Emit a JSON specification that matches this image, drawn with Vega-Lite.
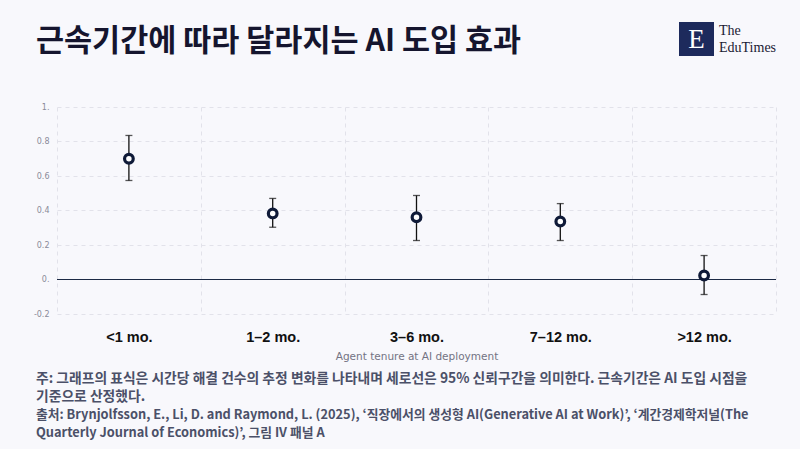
{
  "$schema": "https://vega.github.io/schema/vega-lite/v6.json",
  "background": "#f8f8fc",
  "padding": {"left": 33, "top": 22, "right": 25, "bottom": 7},
  "config": {"view": {"stroke": null}, "font": "Noto Sans CJK KR", "axisY": {"labelOverlap": false}, "axis": {"labelOverlap": false}},
  "spacing": 8,
  "vconcat": [
    {
      "spacing": 46,
      "vconcat": [
        {
          "spacing": 0,
          "hconcat": [
            {
              "width": 622,
              "height": 34,
              "data": {"values": [{"t": "근속기간에 따라 달라지는 AI 도입 효과"}]},
              "mark": {"type": "text", "align": "left", "baseline": "middle", "fontSize": 30.5, "fontWeight": "bold", "color": "#15152e", "dy": 2.5, "dx": -21},
              "encoding": {
                "x": {"datum": 0, "type": "quantitative", "scale": {"domain": [0, 1]}, "axis": null},
                "text": {"field": "t"}
              }
            },
            {
              "width": 35,
              "height": 34,
              "view": {"fill": "#1d2a5c", "stroke": null},
              "data": {"values": [{"t": "E"}]},
              "mark": {"type": "text", "align": "center", "baseline": "middle", "font": "Liberation Serif", "fontSize": 27, "color": "white", "dy": 1},
              "encoding": {"text": {"field": "t"}}
            },
            {
              "width": 58,
              "height": 34,
              "data": {"values": [{"line": 1, "t": "The"}, {"line": 2, "t": "EduTimes"}]},
              "mark": {"type": "text", "align": "left", "baseline": "middle", "font": "Liberation Serif", "fontSize": 14, "color": "#1a1a33", "dx": 5},
              "encoding": {
                "x": {"datum": 0, "type": "quantitative", "scale": {"domain": [0, 1]}, "axis": null},
                "y": {"field": "line", "type": "ordinal", "axis": null, "scale": {"type": "point", "padding": 0.5}},
                "text": {"field": "t"}
              }
            }
          ]
        },
        {
          "width": 719,
          "height": 207,
          "data": {"values": [
            {"tenure": "<1 mo.", "est": 0.70, "lo": 0.574, "hi": 0.835},
            {"tenure": "1–2 mo.", "est": 0.383, "lo": 0.303, "hi": 0.47},
            {"tenure": "3–6 mo.", "est": 0.361, "lo": 0.226, "hi": 0.487},
            {"tenure": "7–12 mo.", "est": 0.336, "lo": 0.226, "hi": 0.44},
            {"tenure": ">12 mo.", "est": 0.023, "lo": -0.087, "hi": 0.139}
          ]},
          "encoding": {
            "x": {
              "field": "tenure", "type": "nominal", "sort": null,
              "scale": {"type": "band", "paddingInner": 0, "paddingOuter": 0},
              "axis": {
                "title": "Agent tenure at AI deployment",
                "labelAngle": 0, "tickBand": "extent", "ticks": false, "domain": false,
                "grid": true, "gridDash": [4, 4], "gridColor": "#e2e2ea", "gridWidth": 1,
                "labelFont": "Liberation Sans", "labelFontSize": 14.5, "labelFontWeight": "bold", "labelColor": "#111111", "labelPadding": 16,
                "titleFont": "DejaVu Sans", "titleFontSize": 10.5, "titleFontWeight": "normal", "titleColor": "#737383", "titlePadding": 8
              }
            },
            "y": {"field": "est", "type": "quantitative", "scale": {"domain": [-0.2, 1]},
              "axis": {"title": null, "values": [-0.2, 0, 0.2, 0.4, 0.6, 0.8, 1], "labelOverlap": false,
                "labelExpr": "datum.value == 0 ? '0.' : datum.value == 1 ? '1.' : replace(format(datum.value, '.1f'), '−', '-')",
                "grid": true, "gridDash": [4, 4], "gridColor": "#e2e2ea", "ticks": false, "domain": false,
                "labelFont": "DejaVu Sans", "labelFontSize": 8, "labelColor": "#8a8a99", "labelPadding": 8}}
          },
          "layer": [
            {
              "mark": {"type": "rule", "color": "#1c2a45", "strokeWidth": 1.2},
              "encoding": {"x": null, "y": {"datum": 0, "type": "quantitative"}}
            },
            {
              "mark": {"type": "errorbar", "ticks": {"size": 7}, "color": "#111111", "thickness": 1.3},
              "encoding": {
                "y": {"field": "lo", "type": "quantitative"},
                "y2": {"field": "hi"}
              }
            },
            {
              "mark": {"type": "point", "filled": false, "fill": "white", "fillOpacity": 1, "stroke": "#0f1a38", "strokeWidth": 3.2, "size": 75, "opacity": 1}
            }
          ]
        }
      ]
    },
    {
      "width": 719,
      "height": 72,
      "data": {"values": [
        {"line": 1, "kind": "note", "text": "주: 그래프의 표식은 시간당 해결 건수의 추정 변화를 나타내며 세로선은 95% 신뢰구간을 의미한다. 근속기간은 AI 도입 시점을"},
        {"line": 2, "kind": "note", "text": "기준으로 산정했다."},
        {"line": 3, "kind": "source", "text": "출처: Brynjolfsson, E., Li, D. and Raymond, L. (2025), ‘직장에서의 생성형 AI(Generative AI at Work)’, ‘계간경제학저널(The"},
        {"line": 4, "kind": "source", "text": "Quarterly Journal of Economics)’, 그림 IV 패널 A"}
      ]},
      "encoding": {
        "x": {"datum": 0, "type": "quantitative", "scale": {"domain": [0, 1]}, "axis": null},
        "y": {"field": "line", "type": "ordinal", "axis": null, "scale": {"type": "point", "padding": 0.5}},
        "text": {"field": "text"}
      },
      "layer": [
        {
          "transform": [{"filter": "datum.kind == 'note'"}],
          "mark": {"type": "text", "align": "left", "baseline": "middle", "fontSize": 13.8, "fontWeight": "bold", "color": "#4b5068", "dx": -21}
        },
        {
          "transform": [{"filter": "datum.kind == 'source'"}],
          "mark": {"type": "text", "align": "left", "baseline": "middle", "fontSize": 12.8, "fontWeight": "bold", "color": "#4b5068", "dx": -21}
        }
      ]
    }
  ]
}
